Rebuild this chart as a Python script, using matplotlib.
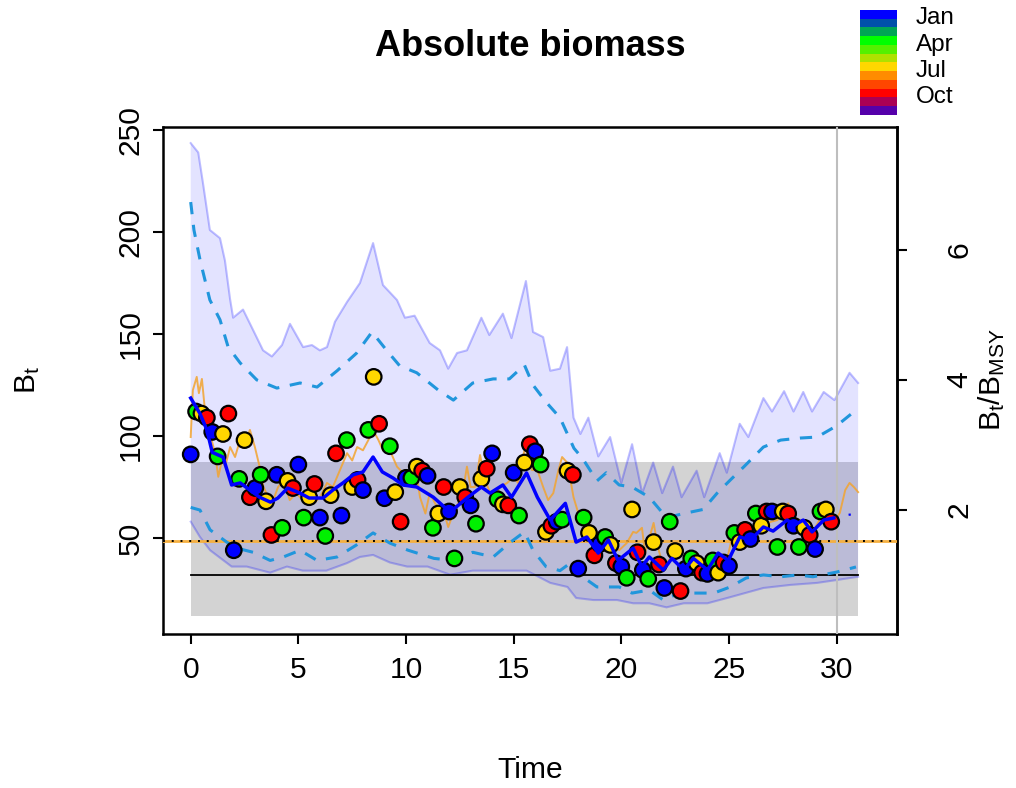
import numpy as np
import matplotlib
matplotlib.use("Agg")
import matplotlib.pyplot as plt

plt.rcParams["font.family"] = ["Liberation Sans", "DejaVu Sans"]
plt.rcParams["mathtext.fontset"] = "custom"
plt.rcParams["mathtext.rm"] = "Liberation Sans"
plt.rcParams["mathtext.default"] = "regular"

# quarterly observations, one row per year: Jan, Apr, Jul, Oct
obs_start = 0.0
obs_step = 0.25
obs_values = [
    91, 112, 111, 109,
    102, 90, 101, 111,
    44, 79, 98, 70,
    74.5, 81, 68, 51.5,
    81, 55, 78, 74.5,
    86, 60, 70, 76.5,
    60, 51, 71, 91.5,
    61, 98, 75, 78.5,
    73.5, 103, 129, 106,
    69.5, 95, 72.5, 58,
    79.5, 79.5, 85, 83,
    80.5, 55, 62, 75,
    63, 40, 75, 70,
    66, 57, 79, 84,
    91.5, 69, 66.5, 66,
    82, 61, 87, 96,
    92.5, 86, 53, 56,
    58, 59, 83, 81,
    35, 60, 52.5, 41.5,
    47, 50.5, 46.6, 37.7,
    36, 30.5, 64, 43,
    34.3, 30, 48, 37,
    25.5, 58, 43.6, 24,
    35, 40, 37.7, 33,
    32.4, 39, 33, 38,
    36.3, 52.5, 48, 54,
    49.5, 62, 56, 63,
    63, 45.6, 63, 62,
    56, 45.6, 55, 51.5,
    44.6, 63, 64, 58,
]
season_colors = ["#0000FF", "#00F000", "#FFD700", "#FF0000"]

legend_labels = ["Jan", "Apr", "Jul", "Oct"]
month_colors = ["#0000FF", "#0050AA", "#00A555", "#00FF00", "#55F000", "#AFE100",
                "#FFD700", "#FF8C00", "#FF4600", "#FF0000", "#AA0055", "#5500AA"]

# estimated biomass
est_time = [0, 0.43, 0.75, 1.0, 1.28, 1.5, 1.9, 2.3, 2.75, 3.2, 3.7, 4.05, 4.5,
            5.08, 5.5, 6.15, 6.6, 7.07, 7.55, 8.0, 8.47, 8.9, 9.4, 9.86, 10.5,
            11.27, 12.05, 12.83, 13.5, 13.9, 14.5, 14.9, 15.6, 16.1, 16.7, 17.4,
            17.9, 18.4, 18.93, 19.4, 19.85, 20.55, 20.95, 21.3, 21.95, 22.35,
            22.9, 23.35, 24.0, 24.5, 24.97, 25.5, 26.0, 26.6, 27.05, 27.7, 28.05,
            28.45, 28.86, 29.4, 29.85]
est_b = [118.6, 111, 103, 92, 90.7, 89.7, 76, 77, 73.5, 70, 67.6, 69.6, 74.5,
         72, 69.6, 69.6, 73.5, 77, 81, 82.4, 89.7, 82.4, 79.4, 76, 75,
         70, 62.7, 69.6, 75, 72, 76, 70, 81.9, 70, 58.8, 67,
         48, 50.5, 42.6, 49, 39, 45, 36, 40.7, 34.3, 40,
         34.3, 40, 34.3, 42.6, 39, 50.5, 49, 55.4, 53.4, 58.8, 56.4,
         58.8, 53, 58.8, 59.8]
fore_time = [29.85, 30.3, 30.85, 31.0]
fore_b = [59.8, 61, 61.8, 62]

# 95% band of biomass
band_hi_t = [0, 0.35, 0.57, 0.89, 1.36, 1.59, 1.83, 1.97, 2.43, 2.85, 3.36, 3.77,
             4.24, 4.61, 5.22, 5.63, 6.0, 6.33, 6.7, 7.26, 7.86, 8.47, 8.93, 9.58,
             9.95, 10.4, 11.1, 11.58, 11.96, 12.37, 12.83, 13.5, 13.87, 14.5, 14.9,
             15.57, 15.9, 16.37, 16.7, 17.15, 17.48, 17.78, 18.1, 18.47, 18.93,
             19.48, 20.0, 20.5, 20.97, 21.48, 21.9, 22.4, 22.8, 23.5, 23.85, 24.57,
             24.9, 25.5, 25.9, 26.6, 27.0, 27.56, 28.0, 28.45, 28.86, 29.4, 29.9,
             30.6, 31.0]
band_hi = [243.6, 239, 224, 201, 197, 186, 167, 158, 162, 153, 142, 139,
           144.6, 155, 143.6, 144.6, 142, 143.6, 156, 165.7, 175, 194.6, 174, 166.7,
           158, 159, 145.6, 142, 133, 140.7, 142, 158, 149.5, 160, 148,
           176, 151, 148.5, 132, 133, 143.6, 109, 101, 109, 90,
           99.5, 77, 96, 72, 87, 72, 85, 70, 83, 70, 91.6,
           82, 106, 99.5, 118.6, 112, 122, 112, 121.6, 112, 121.6, 117.6,
           131, 126]
band_lo_t = [0, 0.43, 0.9, 1.9, 2.6, 3.69, 4.47, 5.2, 6.3, 7.26, 7.86, 8.47, 9.25,
             10.05, 11.0, 12.05, 13.1, 14.4, 15.6, 16.7, 17.5, 17.9, 18.7, 19.8,
             20.55, 21.3, 22.1, 22.9, 24.0, 25.06, 26.6, 27.85, 29.1, 30.0, 31.0]
band_lo = [58, 50.5, 44, 36, 36, 33, 36, 34, 34, 37.7, 40.7, 41.7, 38,
           36, 36, 32, 34, 34, 34, 28, 26, 20.6, 19.6, 19.6,
           18, 18, 16, 18, 18, 21, 25.5, 27, 28, 29.4, 31]

# dashed interval lines
dash_hi_t = [0, 0.15, 0.44, 0.89, 1.36, 1.74, 2.3, 3.07, 4.0, 5.08, 5.87, 6.8, 7.7,
             8.42, 9.1, 9.7, 10.5, 11.5, 12.2, 13.1, 14.05, 14.8, 15.5, 15.9, 16.5,
             17.15, 17.8, 18.2, 18.87, 19.3, 19.9, 20.5, 21.3, 22.1, 22.9, 23.8,
             24.45, 25.06, 25.7, 26.6, 27.4, 28.3, 29.1, 30.0, 30.7, 31.0]
dash_hi = [214.7, 201, 186, 166.7, 157, 143.6, 135.8, 127.5, 123.5, 126, 124, 132,
           140.6, 151, 142, 134.5, 131, 122.5, 117.6, 126, 128, 128, 134.8, 125,
           116.7, 109, 94, 89, 78, 82, 76, 75, 70, 60, 62, 64,
           72, 78.4, 85, 94.6, 98, 99, 99.5, 105, 111, 111]
dash_lo_t = [0, 0.43, 0.9, 1.67, 2.15, 2.9, 3.69, 4.3, 5.08, 5.87, 6.8, 7.7, 8.47,
             9.25, 10.1, 11.3, 12.2, 13.1, 14.05, 14.8, 15.5, 15.9, 16.5, 17.15,
             17.8, 18.2, 18.87, 19.3, 19.9, 20.5, 21.3, 21.95, 22.7, 23.5, 24.3,
             25.06, 25.8, 26.6, 27.4, 28.2, 28.9, 30.0, 30.9]
dash_lo = [65, 63.7, 54, 48, 45, 43, 39, 40.7, 44, 39, 40.7, 46.6, 52.5,
           47.5, 44, 40, 39, 43, 40.7, 47.5, 53, 44, 36, 34,
           39, 31, 26, 26, 26, 23, 24.5, 19.6, 23, 23, 23,
           26, 30.4, 31.9, 31, 31.9, 31, 33.3, 35.8]

# true biomass
true_time = [0, 0.1, 0.28, 0.38, 0.52, 0.66, 0.9, 1.13, 1.28, 1.45, 1.6, 1.83,
             2.06, 2.29, 2.5, 2.75, 2.98, 3.2, 3.38, 3.6, 3.83, 4.06, 4.29, 4.6,
             4.9, 5.2, 5.7, 6.0, 6.33, 6.6, 7.0, 7.26, 7.5, 7.73, 8.0, 8.25, 8.47,
             8.72, 8.93, 9.25, 9.58, 9.86, 10.2, 10.45, 10.65, 10.9, 11.1, 11.45,
             11.73, 11.96, 12.3, 12.6, 12.83, 13.0, 13.2, 13.44, 13.67, 14.05,
             14.35, 14.7, 15.0, 15.2, 15.53, 15.85, 16.1, 16.37, 16.6, 16.84,
             17.08, 17.25, 17.5, 17.78, 18.1, 18.4, 18.7, 19.0, 19.3, 19.6, 19.9,
             20.25, 20.55, 20.7, 20.96, 21.1, 21.5, 21.7, 21.95, 22.27, 22.6,
             22.95, 23.3, 23.5, 23.8, 24.2, 24.5, 24.9, 25.15, 25.4, 25.7, 26.0,
             26.3, 26.6, 26.9, 27.25, 27.5, 27.75, 28.0, 28.3, 28.6, 28.9, 29.2,
             29.55, 29.85, 30.15, 30.4, 30.6, 30.8, 31.0]
true_b = [99.5, 122.5, 129, 121, 128, 112.7, 101, 91.6, 80, 88, 85, 94.6,
          89.7, 98, 96.6, 103, 94.6, 85, 75, 70, 68.6, 75, 78.4, 68.6,
          72, 68.6, 67, 70, 77, 75, 85, 91.6, 88, 94.6, 93, 98, 103,
          98, 93, 93, 85, 81.9, 80, 84, 70, 62, 72, 65,
          63.7, 55.4, 65, 70, 85, 75, 75, 90.7, 78.4, 68.6,
          75, 77, 80, 77, 94.6, 83.3, 83.3, 75, 68.6, 72,
          83.3, 89.7, 86.8, 70, 58.8, 53.9, 49, 50.5, 47.5, 49, 44,
          47.5, 53, 52.5, 55, 42.6, 57.4, 45.6, 35.8, 40, 37.7,
          34.3, 39, 32.8, 34.3, 35.8, 42.6, 39, 50.5, 55.4, 49, 53.9,
          55.4, 52.5, 57.8, 58.8, 63.7, 67, 60.3, 58.8, 56.4, 53, 58.8,
          62.3, 57.4, 62.3, 73.5, 77, 75, 72.5]

bmsy = 31.9
bmsy_lo = 11.8
bmsy_hi = 87.3
true_bmsy = 48.5
t_last_obs = 30.0
t_end = 31.0


def draw_legend(fig):
    """colour bar for the months"""
    lax = fig.add_axes([860 / 1016, 1 - 115 / 788, 37 / 1016, 105 / 788])
    rgb = np.array([matplotlib.colors.to_rgb(c) for c in month_colors])
    lax.imshow(rgb[:, None, :], aspect="auto", interpolation="nearest")
    lax.set_axis_off()
    row = 105 / 12
    for i, name in enumerate(legend_labels):
        yc = 10 + row * (3 * i + 0.5) + 4
        fig.text(916 / 1016, 1 - yc / 788, name, fontsize=17.5,
                 ha="left", va="center")


def main():
    """main function"""
    fig = plt.figure(figsize=(10.16, 7.88), dpi=100)
    ax = fig.add_axes([163 / 1016, 1 - 634 / 788, 734 / 1016, 507 / 788])

    ax.add_patch(plt.Rectangle((0, bmsy_lo), t_end, bmsy_hi - bmsy_lo,
                               facecolor="#D3D3D3", edgecolor="none", zorder=1))

    poly_t = band_hi_t + band_lo_t[::-1]
    poly_b = band_hi + band_lo[::-1]
    ax.fill(poly_t, poly_b, color="blue", alpha=0.11, lw=0, zorder=2)
    ax.plot(band_hi_t, band_hi, color="blue", alpha=0.25, lw=1.5, zorder=2)
    ax.plot(band_lo_t, band_lo, color="blue", alpha=0.25, lw=1.5, zorder=2)

    ax.plot([0, t_end], [bmsy, bmsy], color="black", lw=1.3, zorder=3)
    ax.axhline(true_bmsy, color="#F5B041", lw=2, zorder=3)
    ax.axhline(true_bmsy, color="black", lw=1.4, ls=(0, (1, 3.5)), zorder=3)
    ax.axvline(t_last_obs, color="#BEBEBE", lw=1.5, zorder=3)

    ax.plot(dash_hi_t, dash_hi, color="#2196DC", lw=2.2, ls=(0, (4, 3.5)), zorder=4)
    ax.plot(dash_lo_t, dash_lo, color="#2196DC", lw=2.2, ls=(0, (4, 3.5)), zorder=4)

    ax.plot(true_time, true_b, color="#F2A430", alpha=0.85, lw=1.4, zorder=5)

    times = obs_start + obs_step * np.arange(len(obs_values))
    cols = [season_colors[i % 4] for i in range(len(obs_values))]
    ax.scatter(times, obs_values, s=125, c=cols, edgecolors="black",
               linewidths=1.6, zorder=6)

    ax.plot(est_time, est_b, color="#0000FF", lw=2.5, zorder=7)
    ax.plot(fore_time, fore_b, color="#0000FF", lw=1.6, ls=(0, (1, 6)), zorder=7)

    ax.set_xlim(-1.287, 32.805)
    ax.set_ylim(2.94, 251.5)
    ax.set_xticks([0, 5, 10, 15, 20, 25, 30])
    ax.set_yticks([50, 100, 150, 200, 250])
    ax.tick_params(direction="out", length=7, width=1.5, labelsize=21.6)
    ax.tick_params(axis="x", pad=9)
    ax.tick_params(axis="y", pad=6)
    for lab in ax.get_yticklabels():
        lab.set_rotation(90)
        lab.set_va("center")
    for side in ax.spines.values():
        side.set_linewidth(1.8)

    sec = ax.secondary_yaxis("right", functions=(lambda b: b / bmsy,
                                                 lambda r: r * bmsy))
    sec.set_yticks([2, 4, 6])
    sec.tick_params(direction="out", length=7, width=1.5, labelsize=21.6, pad=28)
    for lab in sec.get_yticklabels():
        lab.set_rotation(90)
        lab.set_va("center")
    sec.spines["right"].set_linewidth(1.8)
    fig.text(992 / 1016, 1 - 380 / 788, "B$_t$/B$_{MSY}$", fontsize=21.6,
             rotation=90, ha="center", va="center")

    ax.set_xlabel("Time", fontsize=21.6, va="center")
    ax.xaxis.set_label_coords(0.5, -0.268)
    ax.set_ylabel("B$_t$", fontsize=21.6, va="center")
    ax.yaxis.set_label_coords(-0.184, 0.5)

    fig.text(530 / 1016, 1 - 47 / 788, "Absolute biomass", fontsize=26,
             fontweight="bold", ha="center", va="center")

    draw_legend(fig)
    fig.savefig("out.png", dpi=100)


if __name__ == "__main__":
    main()
